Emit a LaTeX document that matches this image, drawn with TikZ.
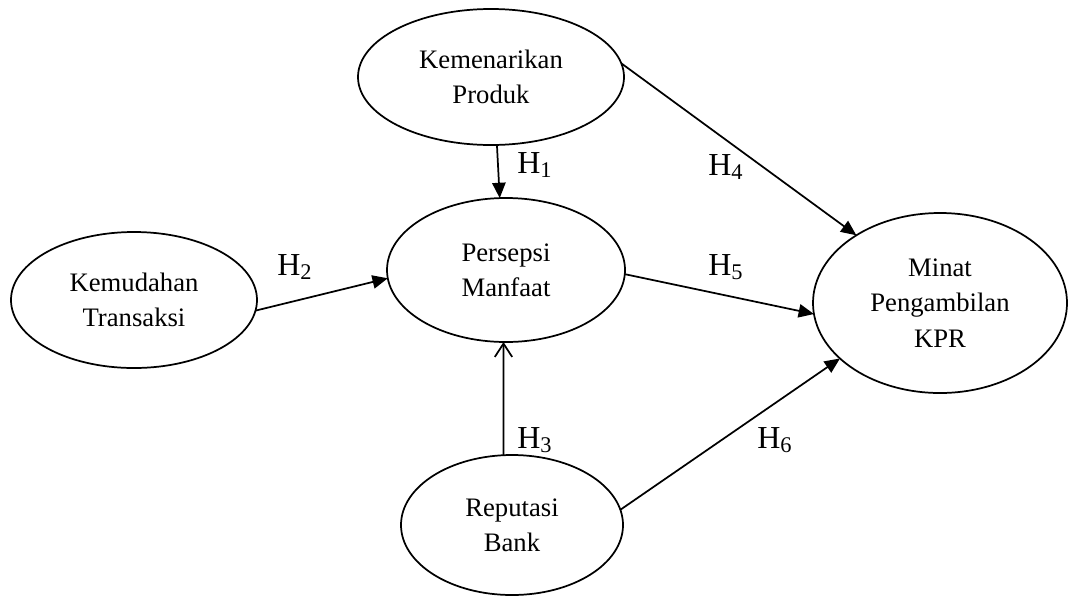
\documentclass[tikz,border=0pt]{standalone}
\usepackage{fontspec}
\setmainfont{Liberation Serif}
\usetikzlibrary{arrows.meta,shapes.geometric}
\begin{document}
\begin{tikzpicture}[x=0.75pt,y=-0.75pt,
  var/.style={draw,ellipse,line width=1.3pt,inner sep=0pt,outer sep=0pt,align=center,
    font=\fontsize{20}{26.5}\selectfont},
  link/.style={line width=1.3pt,-{Triangle[length=11.5pt,width=10pt]}},
  openlink/.style={line width=1.3pt,-{Straight Barb[length=10pt,width=13pt,line width=1.3pt]}},
  hlab/.style={anchor=base west,inner sep=0pt,font=\fontsize{24}{28}\selectfont}]
\useasboundingbox (0,0) rectangle (1070,597);
\node[var,minimum width=199.5pt,minimum height=102pt] (K) at (491,77) {Kemenarikan\\Produk};
\node[var,minimum width=178.5pt,minimum height=108pt] (P) at (506,270) {Persepsi\\Manfaat};
\node[var,minimum width=184.5pt,minimum height=102pt] (T) at (134,300) {Kemudahan\\Transaksi};
\node[var,minimum width=190.5pt,minimum height=135pt] (M) at (940,303) {Minat\\Pengambilan\\KPR};
\node[var,minimum width=166.5pt,minimum height=105pt] (R) at (512,525) {Reputasi\\Bank};
\draw[link] (K.-85) -- (P.95);
\draw[link] (T.-5.6) -- (P.-176.7);
\draw[openlink] (R.97) -- (P.-92.4);
\draw[link] (K.6.1) -- (M.141.5);
\draw[link] (P.-2.4) -- (M.-175.5);
\draw[link] (R.8.6) -- (M.-151.7);
\node[hlab] (h1) at (517,173) {H\textsubscript{1}};
\node[hlab] (h2) at (277,275) {H\textsubscript{2}};
\node[hlab] (h3) at (517,448) {H\textsubscript{3}};
\node[hlab] (h4) at (708,175) {H\textsubscript{4}};
\node[hlab] (h5) at (708,275) {H\textsubscript{5}};
\node[hlab] (h6) at (757,448) {H\textsubscript{6}};
\end{tikzpicture}
\end{document}
